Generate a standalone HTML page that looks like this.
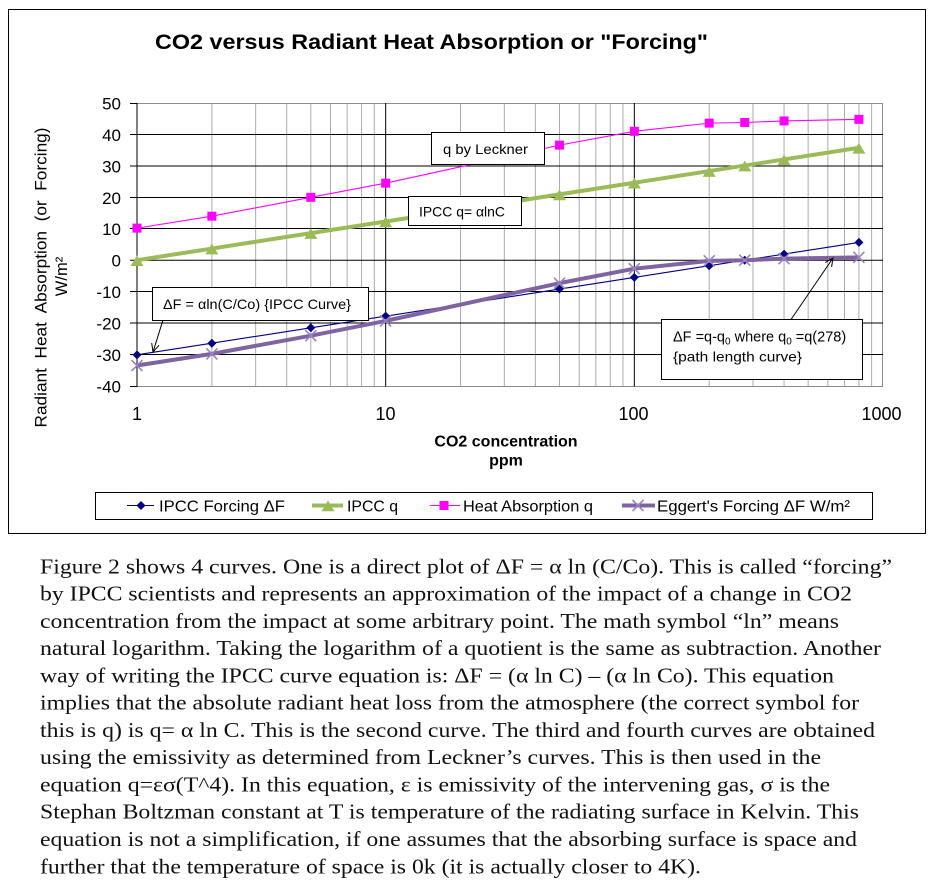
<!DOCTYPE html>
<html>
<head>
<meta charset="utf-8">
<style>
html,body{margin:0;padding:0;background:#fff;}
svg{display:block;}
.sans{font-family:"Liberation Sans",Arial,sans-serif;}
.serif{font-family:"Liberation Serif","Times New Roman",serif;}
</style>
</head>
<body>
<svg width="931" height="887" viewBox="0 0 931 887" xmlns="http://www.w3.org/2000/svg">
<defs>
  <path id="dia" d="M0,-4.5 L4.5,0 L0,4.5 L-4.5,0Z" fill="#000080"/>
  <rect id="sq" x="-4.5" y="-4.5" width="9" height="9" fill="#FF00FF"/>
  <path id="tri" d="M0,-6 L6.5,4.8 L-6.5,4.8Z" fill="#9BBB59"/>
  <path id="xm" d="M-5.5,-5.5 L5.5,5.5 M-5.5,5.5 L5.5,-5.5" stroke="#9586BD" stroke-width="1.6" fill="none"/>
</defs>

<!-- chart frame -->
<rect x="8.5" y="9.5" width="917" height="524" fill="#fff" stroke="#000" stroke-width="1"/>

<!-- title -->
<text class="sans" x="155" y="49" font-size="21" font-weight="bold" textLength="553" lengthAdjust="spacingAndGlyphs">CO2 versus Radiant Heat Absorption or "Forcing"</text>

<!-- minor vertical gridlines -->
<g stroke="#ABABAB" stroke-width="1">
  <line x1="211.86" y1="103" x2="211.86" y2="386"/>
  <line x1="255.65" y1="103" x2="255.65" y2="386"/>
  <line x1="286.71" y1="103" x2="286.71" y2="386"/>
  <line x1="310.81" y1="103" x2="310.81" y2="386"/>
  <line x1="330.51" y1="103" x2="330.51" y2="386"/>
  <line x1="347.15" y1="103" x2="347.15" y2="386"/>
  <line x1="361.57" y1="103" x2="361.57" y2="386"/>
  <line x1="374.29" y1="103" x2="374.29" y2="386"/>
  <line x1="460.53" y1="103" x2="460.53" y2="386"/>
  <line x1="504.32" y1="103" x2="504.32" y2="386"/>
  <line x1="535.38" y1="103" x2="535.38" y2="386"/>
  <line x1="559.48" y1="103" x2="559.48" y2="386"/>
  <line x1="579.18" y1="103" x2="579.18" y2="386"/>
  <line x1="595.82" y1="103" x2="595.82" y2="386"/>
  <line x1="610.24" y1="103" x2="610.24" y2="386"/>
  <line x1="622.96" y1="103" x2="622.96" y2="386"/>
  <line x1="709.2" y1="103" x2="709.2" y2="386"/>
  <line x1="752.99" y1="103" x2="752.99" y2="386"/>
  <line x1="784.05" y1="103" x2="784.05" y2="386"/>
  <line x1="808.15" y1="103" x2="808.15" y2="386"/>
  <line x1="827.85" y1="103" x2="827.85" y2="386"/>
  <line x1="844.49" y1="103" x2="844.49" y2="386"/>
  <line x1="858.91" y1="103" x2="858.91" y2="386"/>
  <line x1="871.63" y1="103" x2="871.63" y2="386"/>
</g>

<!-- plot border (gray) -->
<g stroke="#8C8C8C" stroke-width="1" fill="none">
  <line x1="137" y1="103.5" x2="883" y2="103.5"/>
  <line x1="882.5" y1="103" x2="882.5" y2="386"/>
  <line x1="137" y1="386.5" x2="883" y2="386.5"/>
</g>

<!-- horizontal major gridlines (black) -->
<g stroke="#000" stroke-width="1">
  <line x1="130" y1="134.5" x2="883" y2="134.5"/>
  <line x1="130" y1="166" x2="883" y2="166"/>
  <line x1="130" y1="197.5" x2="883" y2="197.5"/>
  <line x1="130" y1="228.5" x2="883" y2="228.5"/>
  <line x1="130" y1="260.2" x2="883" y2="260.2"/>
  <line x1="130" y1="291.5" x2="883" y2="291.5"/>
  <line x1="130" y1="323" x2="883" y2="323"/>
  <line x1="130" y1="354.5" x2="883" y2="354.5"/>
  <line x1="130" y1="103.5" x2="137" y2="103.5"/>
  <line x1="130" y1="386.5" x2="137" y2="386.5"/>
  <!-- major vertical -->
  <line x1="385.67" y1="103" x2="385.67" y2="386.5"/>
  <line x1="634.33" y1="103" x2="634.33" y2="386.5"/>
  <!-- y axis -->
  <line x1="137" y1="103" x2="137" y2="387"/>
</g>

<!-- y tick labels -->
<g class="sans" font-size="17" text-anchor="end" fill="#000">
  <text x="121" y="109.5">50</text>
  <text x="121" y="141">40</text>
  <text x="121" y="172.5">30</text>
  <text x="121" y="204">20</text>
  <text x="121" y="235">10</text>
  <text x="121" y="266.5">0</text>
  <text x="121" y="298">-10</text>
  <text x="121" y="329.5">-20</text>
  <text x="121" y="361">-30</text>
  <text x="121" y="392.5">-40</text>
</g>

<!-- x tick labels -->
<g class="sans" font-size="18" text-anchor="middle" fill="#000">
  <text x="137" y="420">1</text>
  <text x="385.5" y="420">10</text>
  <text x="633.5" y="420">100</text>
  <text x="881.5" y="420">1000</text>
</g>

<!-- axis titles -->
<text class="sans" x="506" y="446.5" font-size="16" font-weight="bold" text-anchor="middle">CO2 concentration</text>
<text class="sans" x="506" y="465.5" font-size="16" font-weight="bold" text-anchor="middle">ppm</text>
<text class="sans" font-size="16.5" text-anchor="middle" transform="translate(46.5,277.5) rotate(-90)" textLength="300" lengthAdjust="spacingAndGlyphs">Radiant&#160; Heat&#160; Absorption&#160; (or&#160; Forcing)</text>
<text class="sans" font-size="16.5" text-anchor="middle" transform="translate(67,276.5) rotate(-90)">W/m²</text>

<!-- series: IPCC Forcing ΔF (blue) -->
<polyline fill="none" stroke="#000080" stroke-width="1.1" points="137,354.84 211.86,343.2 310.81,327.8 385.67,316.16 559.48,289.06 634.33,277.4 709.2,265.73 744.75,260.2 784.06,254.07 858.9,242.4"/>
<use href="#dia" x="137" y="354.84"/><use href="#dia" x="211.86" y="343.2"/><use href="#dia" x="310.81" y="327.8"/><use href="#dia" x="385.67" y="316.16"/><use href="#dia" x="559.48" y="289.06"/><use href="#dia" x="634.33" y="277.4"/><use href="#dia" x="709.2" y="265.73"/><use href="#dia" x="744.75" y="260.2"/><use href="#dia" x="784.06" y="254.07"/><use href="#dia" x="858.9" y="242.4"/>

<!-- series: IPCC q (green) -->
<polyline fill="none" stroke="#9BBB59" stroke-width="4" stroke-linejoin="round" points="137,260.2 211.86,248.54 310.81,233.13 385.67,221.47 559.48,194.4 634.33,182.73 709.2,171.07 744.75,165.57 784.06,159.43 858.9,147.77"/>
<use href="#tri" x="137" y="261.2"/><use href="#tri" x="211.86" y="249.54"/><use href="#tri" x="310.81" y="234.13"/><use href="#tri" x="385.67" y="222.47"/><use href="#tri" x="559.48" y="195.4"/><use href="#tri" x="634.33" y="183.73"/><use href="#tri" x="709.2" y="172.07"/><use href="#tri" x="744.75" y="166.57"/><use href="#tri" x="784.06" y="160.43"/><use href="#tri" x="858.9" y="148.77"/>

<!-- series: Heat Absorption q (magenta) -->
<polyline fill="none" stroke="#FF00FF" stroke-width="1.1" points="137,228.13 211.86,216.18 310.81,197.32 385.67,183.17 559.48,145.13 634.33,131.3 709.2,123.12 744.75,122.49 784.06,120.92 858.9,119.35"/>
<use href="#sq" x="137" y="228.13"/><use href="#sq" x="211.86" y="216.18"/><use href="#sq" x="310.81" y="197.32"/><use href="#sq" x="385.67" y="183.17"/><use href="#sq" x="559.48" y="145.13"/><use href="#sq" x="634.33" y="131.3"/><use href="#sq" x="709.2" y="123.12"/><use href="#sq" x="744.75" y="122.49"/><use href="#sq" x="784.06" y="120.92"/><use href="#sq" x="858.9" y="119.35"/>

<!-- series: Eggert's Forcing (purple) -->
<polyline fill="none" stroke="#8064A2" stroke-width="4" stroke-linejoin="round" points="137,365.52 211.86,353.89 310.81,335.66 385.67,320.88 559.48,283.15 634.33,268.69 709.2,260.83 744.75,260.2 784.06,258.63 858.9,257.37"/>
<use href="#xm" x="137" y="365.52"/><use href="#xm" x="211.86" y="353.89"/><use href="#xm" x="310.81" y="335.66"/><use href="#xm" x="385.67" y="320.88"/><use href="#xm" x="559.48" y="283.15"/><use href="#xm" x="634.33" y="268.69"/><use href="#xm" x="709.2" y="260.83"/><use href="#xm" x="744.75" y="260.2"/><use href="#xm" x="784.06" y="258.63"/><use href="#xm" x="858.9" y="257.37"/>

<!-- annotations -->
<rect x="431.5" y="132.5" width="113" height="32" fill="#fff" stroke="#000"/>
<text class="sans" x="443" y="154" font-size="14" textLength="85" lengthAdjust="spacingAndGlyphs">q by Leckner</text>

<rect x="408.5" y="196.5" width="113" height="29" fill="#fff" stroke="#000"/>
<text class="sans" x="419" y="216.5" font-size="14" textLength="86" lengthAdjust="spacingAndGlyphs">IPCC q= αlnC</text>

<rect x="152.5" y="287.5" width="216" height="33" fill="#fff" stroke="#000"/>
<text class="sans" x="163" y="309" font-size="14" textLength="188" lengthAdjust="spacingAndGlyphs">ΔF = αln(C/Co) {IPCC Curve}</text>

<rect x="661.5" y="319.5" width="201" height="60" fill="#fff" stroke="#000"/>
<text class="sans" x="673" y="341.5" font-size="14.5">ΔF =q-q<tspan font-size="10" dy="3">0</tspan><tspan dy="-3"> where q</tspan><tspan font-size="10" dy="3">0</tspan><tspan dy="-3"> =q(278)</tspan></text>
<text class="sans" x="673" y="361.5" font-size="14" textLength="129" lengthAdjust="spacingAndGlyphs">{path length curve}</text>

<!-- arrows -->
<g stroke="#000" stroke-width="1" fill="none">
  <line x1="163" y1="320" x2="153" y2="352"/>
  <polyline points="159,345.3 153,352 151.7,343.1"/>
  <line x1="791" y1="319.5" x2="833" y2="258"/>
  <polyline points="825.3,262.6 833,258 831.6,266.9"/>
</g>

<!-- legend -->
<rect x="95.5" y="492.5" width="777" height="27" fill="#fff" stroke="#000"/>
<line x1="127" y1="505.5" x2="154" y2="505.5" stroke="#000080" stroke-width="1.1"/>
<use href="#dia" x="141" y="505.5"/>
<text class="sans" x="159" y="511.5" font-size="16" textLength="126" lengthAdjust="spacingAndGlyphs">IPCC Forcing ΔF</text>
<line x1="312" y1="505.5" x2="343" y2="505.5" stroke="#9BBB59" stroke-width="4"/>
<use href="#tri" x="328" y="506.5"/>
<text class="sans" x="347" y="511.5" font-size="16" textLength="51" lengthAdjust="spacingAndGlyphs">IPCC q</text>
<line x1="430" y1="505.5" x2="460" y2="505.5" stroke="#FF00FF" stroke-width="1.1"/>
<use href="#sq" x="444" y="505.5"/>
<text class="sans" x="463" y="511.5" font-size="16" textLength="130" lengthAdjust="spacingAndGlyphs">Heat Absorption q</text>
<line x1="622" y1="505.5" x2="655" y2="505.5" stroke="#8064A2" stroke-width="4"/>
<use href="#xm" x="638" y="505.5"/>
<text class="sans" x="657" y="511.5" font-size="16" textLength="193" lengthAdjust="spacingAndGlyphs">Eggert's Forcing ΔF W/m²</text>

<!-- paragraph -->
<g class="serif" font-size="21" fill="#111">
  <text x="40" y="573.3" textLength="852" lengthAdjust="spacingAndGlyphs">Figure 2 shows 4 curves. One is a direct plot of ΔF = α ln (C/Co). This is called “forcing”</text>
  <text x="40" y="600.6" textLength="812" lengthAdjust="spacingAndGlyphs">by IPCC scientists and represents an approximation of the impact of a change in CO2</text>
  <text x="40" y="627.8" textLength="799" lengthAdjust="spacingAndGlyphs">concentration from the impact at some arbitrary point. The math symbol “ln” means</text>
  <text x="40" y="655.1" textLength="841" lengthAdjust="spacingAndGlyphs">natural logarithm. Taking the logarithm of a quotient is the same as subtraction. Another</text>
  <text x="40" y="682.4" textLength="794" lengthAdjust="spacingAndGlyphs">way of writing the IPCC curve equation is: ΔF = (α ln C) – (α ln Co). This equation</text>
  <text x="40" y="709.7" textLength="819" lengthAdjust="spacingAndGlyphs">implies that the absolute radiant heat loss from the atmosphere (the correct symbol for</text>
  <text x="40" y="736.9" textLength="835" lengthAdjust="spacingAndGlyphs">this is q) is q= α ln C. This is the second curve. The third and fourth curves are obtained</text>
  <text x="40" y="764.2" textLength="781" lengthAdjust="spacingAndGlyphs">using the emissivity as determined from Leckner’s curves. This is then used in the</text>
  <text x="40" y="791.5" textLength="790" lengthAdjust="spacingAndGlyphs">equation q=εσ(T^4). In this equation, ε is emissivity of the intervening gas, σ is the</text>
  <text x="40" y="818.7" textLength="819" lengthAdjust="spacingAndGlyphs">Stephan Boltzman constant at T is temperature of the radiating surface in Kelvin. This</text>
  <text x="40" y="846" textLength="817" lengthAdjust="spacingAndGlyphs">equation is not a simplification, if one assumes that the absorbing surface is space and</text>
  <text x="40" y="873.3" textLength="661" lengthAdjust="spacingAndGlyphs">further that the temperature of space is 0k (it is actually closer to 4K).</text>
</g>
</svg>
</body>
</html>
